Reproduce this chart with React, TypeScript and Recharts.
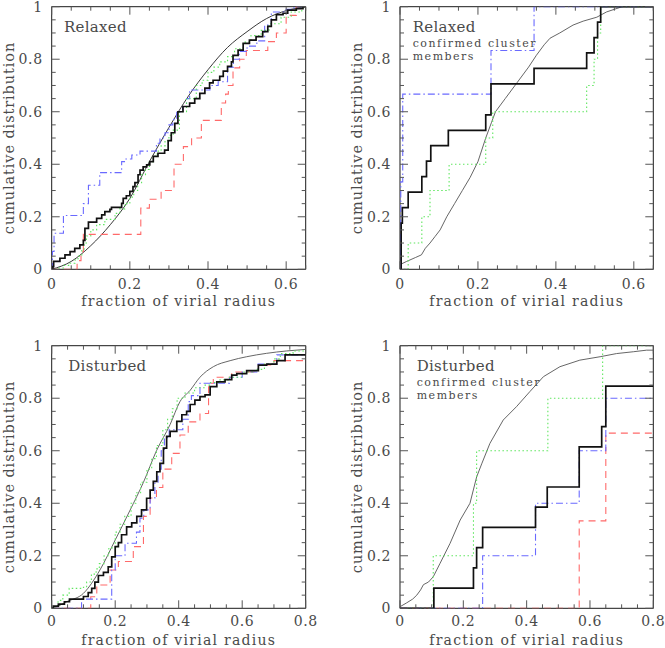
import { LineChart, Line, XAxis, YAxis, ReferenceArea } from "recharts"

type Pt = [number, number]

// tick values
const ticksTopX = [0, 0.05, 0.1, 0.15, 0.2, 0.25, 0.3, 0.35, 0.4, 0.45, 0.5, 0.55, 0.6, 0.65]
const ticksBottomX = [0, 0.05, 0.1, 0.15, 0.2, 0.25, 0.3, 0.35, 0.4, 0.45, 0.5, 0.55, 0.6, 0.65, 0.7, 0.75, 0.8]
const ticksY = [0, 0.05, 0.1, 0.15, 0.2, 0.25, 0.3, 0.35, 0.4, 0.45, 0.5, 0.55, 0.6, 0.65, 0.7, 0.75, 0.8, 0.85, 0.9, 0.95, 1]
const majorTopX = [0, 0.2, 0.4, 0.6]
const majorBottomX = [0, 0.2, 0.4, 0.6, 0.8]
const majorY = [0, 0.2, 0.4, 0.6, 0.8, 1]

// Relaxed, all galaxies
const relaxedModel: Pt[] = [[0, 0], [0.05, 0.03], [0.1, 0.09], [0.15, 0.17], [0.2, 0.27], [0.25, 0.41], [0.3, 0.54], [0.35, 0.66], [0.4, 0.76], [0.45, 0.845], [0.5, 0.905], [0.55, 0.955], [0.6, 0.985], [0.65, 1]]
const relaxedBlack: Pt[] = [[0, 0], [0.003, 0.01], [0.005, 0.03], [0.021, 0.042], [0.034, 0.055], [0.047, 0.067], [0.059, 0.08], [0.072, 0.093], [0.081, 0.11], [0.085, 0.156], [0.094, 0.18], [0.115, 0.194], [0.128, 0.207], [0.136, 0.22], [0.149, 0.228], [0.153, 0.236], [0.179, 0.251], [0.183, 0.27], [0.191, 0.28], [0.2, 0.297], [0.208, 0.315], [0.213, 0.33], [0.221, 0.36], [0.226, 0.378], [0.234, 0.39], [0.243, 0.398], [0.251, 0.41], [0.26, 0.43], [0.272, 0.442], [0.289, 0.454], [0.298, 0.49], [0.306, 0.52], [0.315, 0.556], [0.323, 0.6], [0.336, 0.62], [0.353, 0.633], [0.366, 0.65], [0.379, 0.67], [0.392, 0.69], [0.404, 0.71], [0.413, 0.72], [0.43, 0.735], [0.439, 0.755], [0.45, 0.773], [0.46, 0.79], [0.464, 0.815], [0.477, 0.835], [0.49, 0.86], [0.506, 0.873], [0.523, 0.886], [0.54, 0.905], [0.553, 0.925], [0.562, 0.95], [0.575, 0.97], [0.592, 0.975], [0.604, 0.987], [0.626, 0.993], [0.643, 1], [0.65, 1]]
const relaxedGreen: Pt[] = [[0, 0], [0.015, 0.005], [0.03, 0.015], [0.047, 0.023], [0.06, 0.04], [0.068, 0.05], [0.077, 0.074], [0.083, 0.1], [0.089, 0.127], [0.1, 0.15], [0.115, 0.17], [0.136, 0.19], [0.162, 0.213], [0.174, 0.23], [0.187, 0.25], [0.2, 0.275], [0.21, 0.3], [0.22, 0.33], [0.23, 0.36], [0.24, 0.38], [0.25, 0.41], [0.26, 0.43], [0.27, 0.45], [0.28, 0.47], [0.29, 0.49], [0.3, 0.51], [0.311, 0.53], [0.327, 0.6], [0.345, 0.65], [0.37, 0.7], [0.385, 0.72], [0.4, 0.75], [0.415, 0.77], [0.43, 0.79], [0.45, 0.81], [0.468, 0.84], [0.49, 0.865], [0.51, 0.89], [0.536, 0.91], [0.556, 0.935], [0.587, 0.96], [0.613, 0.98], [0.64, 0.995], [0.65, 1]]
const relaxedBlue: Pt[] = [[0, 0], [0.002, 0.068], [0.006, 0.137], [0.03, 0.205], [0.081, 0.25], [0.094, 0.32], [0.123, 0.368], [0.179, 0.41], [0.19, 0.42], [0.205, 0.435], [0.226, 0.45], [0.268, 0.48], [0.277, 0.5], [0.29, 0.52], [0.3, 0.55], [0.31, 0.57], [0.32, 0.6], [0.335, 0.62], [0.345, 0.65], [0.353, 0.683], [0.405, 0.7], [0.426, 0.714], [0.45, 0.77], [0.465, 0.8], [0.48, 0.83], [0.5, 0.85], [0.525, 0.87], [0.545, 0.93], [0.562, 0.98], [0.6, 0.99], [0.62, 1], [0.65, 1]]
const relaxedRed: Pt[] = [[0, 0], [0.065, 0.033], [0.075, 0.067], [0.081, 0.133], [0.228, 0.233], [0.25, 0.267], [0.28, 0.3], [0.313, 0.4], [0.337, 0.467], [0.358, 0.5], [0.383, 0.567], [0.434, 0.633], [0.445, 0.667], [0.452, 0.7], [0.464, 0.767], [0.481, 0.8], [0.498, 0.833], [0.553, 0.867], [0.575, 0.9], [0.6, 0.967], [0.626, 1], [0.65, 1]]

// Relaxed, confirmed members
const relaxedMemAll: Pt[] = [[0, 0.005], [0.003, 0.02], [0.017, 0.03], [0.04, 0.045], [0.055, 0.055], [0.065, 0.08], [0.077, 0.1], [0.09, 0.125], [0.103, 0.15], [0.12, 0.2], [0.14, 0.25], [0.16, 0.3], [0.18, 0.35], [0.2, 0.41], [0.22, 0.5], [0.235, 0.56], [0.245, 0.6], [0.27, 0.65], [0.3, 0.71], [0.33, 0.77], [0.35, 0.815], [0.37, 0.855], [0.385, 0.88], [0.41, 0.9], [0.444, 0.93], [0.47, 0.945], [0.505, 0.96], [0.53, 0.98], [0.55, 0.99], [0.57, 1], [0.65, 1]]
const relaxedMemBlack: Pt[] = [[0, 0], [0.003, 0.176], [0.006, 0.235], [0.021, 0.294], [0.056, 0.353], [0.068, 0.412], [0.079, 0.471], [0.124, 0.529], [0.22, 0.588], [0.2335, 0.706], [0.344, 0.765], [0.479, 0.824], [0.498, 0.882], [0.507, 0.941], [0.515, 1], [0.65, 1]]
const relaxedMemGreen: Pt[] = [[0, 0], [0.021, 0.1], [0.056, 0.2], [0.077, 0.3], [0.126, 0.4], [0.22, 0.5], [0.238, 0.6], [0.479, 0.7], [0.498, 0.8], [0.507, 0.9], [0.515, 1], [0.65, 1]]
const relaxedMemBlue: Pt[] = [[0, 0], [0.002, 0.333], [0.007, 0.667], [0.2335, 0.833], [0.344, 1], [0.65, 1]]

// Disturbed, all galaxies
const disturbedModel: Pt[] = [[0, 0], [0.016, 0.006], [0.047, 0.025], [0.1, 0.057], [0.152, 0.146], [0.2, 0.26], [0.247, 0.374], [0.289, 0.48], [0.33, 0.6], [0.373, 0.7], [0.404, 0.787], [0.436, 0.83], [0.467, 0.88], [0.509, 0.92], [0.562, 0.943], [0.614, 0.958], [0.677, 0.971], [0.74, 0.98], [0.8, 0.986]]
const disturbedBlack: Pt[] = [[0, 0], [0.005, 0.008], [0.021, 0.016], [0.04, 0.025], [0.056, 0.035], [0.1, 0.045], [0.115, 0.06], [0.126, 0.076], [0.136, 0.1], [0.147, 0.125], [0.163, 0.137], [0.178, 0.158], [0.189, 0.196], [0.2, 0.235], [0.21, 0.25], [0.22, 0.28], [0.236, 0.31], [0.252, 0.325], [0.268, 0.35], [0.283, 0.375], [0.299, 0.419], [0.31, 0.45], [0.32, 0.483], [0.331, 0.52], [0.341, 0.552], [0.352, 0.61], [0.362, 0.655], [0.373, 0.674], [0.394, 0.712], [0.41, 0.737], [0.425, 0.75], [0.436, 0.776], [0.451, 0.793], [0.467, 0.806], [0.483, 0.813], [0.499, 0.844], [0.52, 0.862], [0.546, 0.871], [0.567, 0.888], [0.583, 0.894], [0.614, 0.905], [0.651, 0.926], [0.677, 0.93], [0.709, 0.943], [0.735, 0.965], [0.8, 0.965]]
const disturbedGreen: Pt[] = [[0, 0], [0.01, 0.01], [0.02, 0.03], [0.035, 0.05], [0.055, 0.076], [0.1, 0.08], [0.11, 0.1], [0.125, 0.13], [0.14, 0.15], [0.15, 0.17], [0.165, 0.2], [0.18, 0.23], [0.2, 0.29], [0.215, 0.32], [0.23, 0.35], [0.25, 0.4], [0.265, 0.44], [0.28, 0.48], [0.3, 0.53], [0.315, 0.57], [0.33, 0.62], [0.35, 0.68], [0.365, 0.72], [0.38, 0.76], [0.395, 0.8], [0.42, 0.82], [0.45, 0.84], [0.48, 0.85], [0.5, 0.86], [0.53, 0.87], [0.56, 0.88], [0.6, 0.9], [0.64, 0.91], [0.67, 0.93], [0.7, 0.95], [0.72, 0.97], [0.76, 0.98], [0.8, 0.985]]
const disturbedBlue: Pt[] = [[0, 0], [0.094, 0.035], [0.189, 0.146], [0.2, 0.2], [0.231, 0.248], [0.267, 0.29], [0.278, 0.343], [0.29, 0.375], [0.31, 0.42], [0.325, 0.48], [0.335, 0.53], [0.345, 0.6], [0.355, 0.65], [0.37, 0.68], [0.413, 0.72], [0.43, 0.787], [0.44, 0.81], [0.467, 0.857], [0.56, 0.88], [0.6, 0.9], [0.65, 0.93], [0.709, 0.965], [0.8, 0.965]]
const disturbedRed: Pt[] = [[0, 0], [0.123, 0.044], [0.142, 0.089], [0.184, 0.146], [0.21, 0.178], [0.257, 0.235], [0.289, 0.35], [0.31, 0.42], [0.33, 0.46], [0.35, 0.53], [0.378, 0.59], [0.404, 0.66], [0.43, 0.71], [0.467, 0.742], [0.494, 0.857], [0.509, 0.88], [0.567, 0.9], [0.651, 0.927], [0.7, 0.943], [0.8, 0.943]]

// Disturbed, confirmed members
const disturbedMemAll: Pt[] = [[0, 0.006], [0.02, 0.02], [0.04, 0.035], [0.053, 0.05], [0.065, 0.07], [0.074, 0.09], [0.09, 0.1], [0.105, 0.12], [0.126, 0.17], [0.158, 0.247], [0.19, 0.336], [0.221, 0.4], [0.242, 0.5], [0.258, 0.55], [0.284, 0.628], [0.326, 0.717], [0.368, 0.768], [0.41, 0.825], [0.453, 0.882], [0.505, 0.92], [0.568, 0.945], [0.632, 0.958], [0.684, 0.97], [0.737, 0.977], [0.779, 0.983], [0.8, 0.983]]
const disturbedMemBlack: Pt[] = [[0, 0], [0.107, 0.077], [0.232, 0.154], [0.242, 0.231], [0.261, 0.308], [0.428, 0.385], [0.465, 0.462], [0.566, 0.615], [0.637, 0.692], [0.65, 0.846], [0.8, 0.846]]
const disturbedMemGreen: Pt[] = [[0, 0], [0.105, 0.2], [0.232, 0.4], [0.242, 0.6], [0.467, 0.8], [0.64, 1], [0.8, 1]]
const disturbedMemBlue: Pt[] = [[0, 0], [0.261, 0.2], [0.428, 0.4], [0.566, 0.6], [0.65, 0.8], [0.8, 0.8]]
const disturbedMemRed: Pt[] = [[0, 0], [0.566, 0.333], [0.65, 0.667], [0.8, 0.667]]

type Curve = "stepAfter" | "monotone" | "linear"
type Series = { data: Pt[]; color: string; width: number; dash?: string; curve: Curve }

const GREEN = "#5fe65f"
const BLUE = "#6a6aff"
const RED = "#ff6a6a"
const FONT = "DejaVu Serif"
const TEXT = "#4a4a4a"
const TICK = "#555"

const blackLine = (d: Pt[]): Series => ({ data: d, color: "#111", width: 1.7, curve: "stepAfter" })
const greenLine = (d: Pt[]): Series => ({ data: d, color: GREEN, width: 1.1, dash: "1.5 2.5", curve: "stepAfter" })
const blueLine = (d: Pt[]): Series => ({ data: d, color: BLUE, width: 1.1, dash: "7 3 1.5 3", curve: "stepAfter" })
const redLine = (d: Pt[]): Series => ({ data: d, color: RED, width: 1.1, dash: "7 5", curve: "stepAfter" })

const fmt = (v: number) => (v === 0 ? "0" : String(v))

function Panel(props: {
  left: number
  top: number
  width: number
  yAxisW: number
  marginTop: number
  marginRight: number
  xAxisH: number
  xMax: number
  xTicks: number[]
  xMajor: number[]
  labelOff: number
  series: Series[]
}) {
  const { left, top, width, yAxisW, marginTop, marginRight, xAxisH, xMax, xTicks, xMajor, labelOff, series } = props
  const height = 324
  const plotH = height - marginTop - xAxisH
  const plotW = width - yAxisW - marginRight

  const xTick = (p: any) => {
    const { x, y, payload } = p
    const major = xMajor.includes(payload.value)
    const len = major ? 8 : 4
    return (
      <g>
        <line x1={x} y1={y} x2={x} y2={y - len} stroke={TICK} strokeWidth={1} />
        <line x1={x} y1={y - plotH} x2={x} y2={y - plotH + len} stroke={TICK} strokeWidth={1} />
        {major && (
          <text x={x} y={y + labelOff} textAnchor="middle" dominantBaseline="central" fontFamily={FONT} fontSize={14} letterSpacing={0.6} fill={TEXT}>
            {fmt(payload.value)}
          </text>
        )}
      </g>
    )
  }

  const yTick = (p: any) => {
    const { x, y, payload } = p
    const major = majorY.includes(payload.value)
    const len = major ? 8 : 4
    return (
      <g>
        <line x1={x} y1={y} x2={x + len} y2={y} stroke={TICK} strokeWidth={1} />
        <line x1={x + plotW} y1={y} x2={x + plotW - len} y2={y} stroke={TICK} strokeWidth={1} />
        {major && (
          <text x={x - 9} y={y} textAnchor="end" dominantBaseline="central" fontFamily={FONT} fontSize={14} letterSpacing={0.6} fill={TEXT}>
            {fmt(payload.value)}
          </text>
        )}
      </g>
    )
  }

  return (
    <div style={{ position: "absolute", left, top }}>
      <LineChart width={width} height={height} margin={{ top: marginTop, right: marginRight, bottom: 0, left: 0 }}>
        <XAxis
          type="number"
          dataKey="x"
          domain={[0, xMax]}
          ticks={xTicks}
          interval={0}
          tickSize={0}
          tickMargin={0}
          axisLine={false}
          tickLine={false}
          height={xAxisH}
          tick={xTick}
          allowDataOverflow
        />
        <YAxis
          type="number"
          domain={[0, 1]}
          ticks={ticksY}
          interval={0}
          tickSize={0}
          tickMargin={0}
          axisLine={false}
          tickLine={false}
          width={yAxisW}
          tick={yTick}
          allowDataOverflow
        />
        {series.map((s, i) => (
          <Line
            key={i}
            data={s.data.map(([x, y]) => ({ x, y }))}
            dataKey="y"
            type={s.curve}
            stroke={s.color}
            strokeWidth={s.width}
            strokeDasharray={s.dash}
            dot={false}
            activeDot={false}
            isAnimationActive={false}
          />
        ))}
        <ReferenceArea x1={0} x2={xMax} y1={0} y2={1} fill="none" fillOpacity={0} stroke="#1a1a1a" strokeWidth={1} />
      </LineChart>
    </div>
  )
}

export default function App() {
  const txt = { fontFamily: FONT, fill: TEXT }
  const xTitle = { textAnchor: "middle", dominantBaseline: "central", fontSize: 14, letterSpacing: 1.25, ...txt } as any
  const yTitle = { textAnchor: "middle", dominantBaseline: "central", fontSize: 14.5, letterSpacing: 0.9, ...txt } as any
  const sub = { fontSize: 11, letterSpacing: 1.5, ...txt }
  const head = { fontSize: 15, letterSpacing: 0.3, ...txt }
  return (
    <div style={{ position: "absolute", left: 0, top: 0, width: 665, height: 648, background: "#fff", overflow: "hidden" }}>
      <Panel
        left={0} top={0} width={332} yAxisW={51.7} marginTop={6.7} marginRight={26.3} xAxisH={54.7}
        xMax={0.65} xTicks={ticksTopX} xMajor={majorTopX} labelOff={15}
        series={[
          { data: relaxedModel, color: "#222", width: 0.9, curve: "monotone" },
          redLine(relaxedRed),
          blueLine(relaxedBlue),
          greenLine(relaxedGreen),
          blackLine(relaxedBlack),
        ]}
      />
      <Panel
        left={340} top={0} width={325} yAxisW={60} marginTop={6.7} marginRight={11.7} xAxisH={54.7}
        xMax={0.65} xTicks={ticksTopX} xMajor={majorTopX} labelOff={15}
        series={[
          { data: relaxedMemAll, color: "#555", width: 0.9, curve: "linear" },
          greenLine(relaxedMemGreen),
          blueLine(relaxedMemBlue),
          blackLine(relaxedMemBlack),
        ]}
      />
      <Panel
        left={0} top={324} width={332} yAxisW={51.7} marginTop={21.7} marginRight={26.3} xAxisH={39.7}
        xMax={0.8} xTicks={ticksBottomX} xMajor={majorBottomX} labelOff={13}
        series={[
          { data: disturbedModel, color: "#555", width: 0.9, curve: "monotone" },
          redLine(disturbedRed),
          blueLine(disturbedBlue),
          greenLine(disturbedGreen),
          blackLine(disturbedBlack),
        ]}
      />
      <Panel
        left={340} top={324} width={325} yAxisW={60} marginTop={21.7} marginRight={11.7} xAxisH={39.7}
        xMax={0.8} xTicks={ticksBottomX} xMajor={majorBottomX} labelOff={13}
        series={[
          { data: disturbedMemAll, color: "#555", width: 0.9, curve: "linear" },
          redLine(disturbedMemRed),
          greenLine(disturbedMemGreen),
          blueLine(disturbedMemBlue),
          blackLine(disturbedMemBlack),
        ]}
      />
      <svg width={665} height={648} style={{ position: "absolute", left: 0, top: 0, pointerEvents: "none" }}>
        {/* axis titles */}
        <text x={178.7} y={300.5} {...xTitle}>fraction of virial radius</text>
        <text x={526.7} y={300.5} {...xTitle}>fraction of virial radius</text>
        <text x={178.7} y={640} {...xTitle}>fraction of virial radius</text>
        <text x={526.7} y={640} {...xTitle}>fraction of virial radius</text>
        <text transform="translate(9,138) rotate(-90)" {...yTitle}>cumulative distribution</text>
        <text transform="translate(357,138) rotate(-90)" {...yTitle}>cumulative distribution</text>
        <text transform="translate(9,477) rotate(-90)" {...yTitle}>cumulative distribution</text>
        <text transform="translate(357,477) rotate(-90)" {...yTitle}>cumulative distribution</text>
        {/* panel notes */}
        <text x={64} y={32} {...head}>Relaxed</text>
        <text x={412.7} y={31.5} {...head}>Relaxed</text>
        <text x={412.7} y={47} {...sub}>confirmed cluster</text>
        <text x={412.7} y={59.5} {...sub}>members</text>
        <text x={68.3} y={371} {...head}>Disturbed</text>
        <text x={416.7} y={370.5} {...head}>Disturbed</text>
        <text x={416.7} y={386.2} {...sub}>confirmed cluster</text>
        <text x={416.7} y={398.5} {...sub}>members</text>
      </svg>
    </div>
  )
}
